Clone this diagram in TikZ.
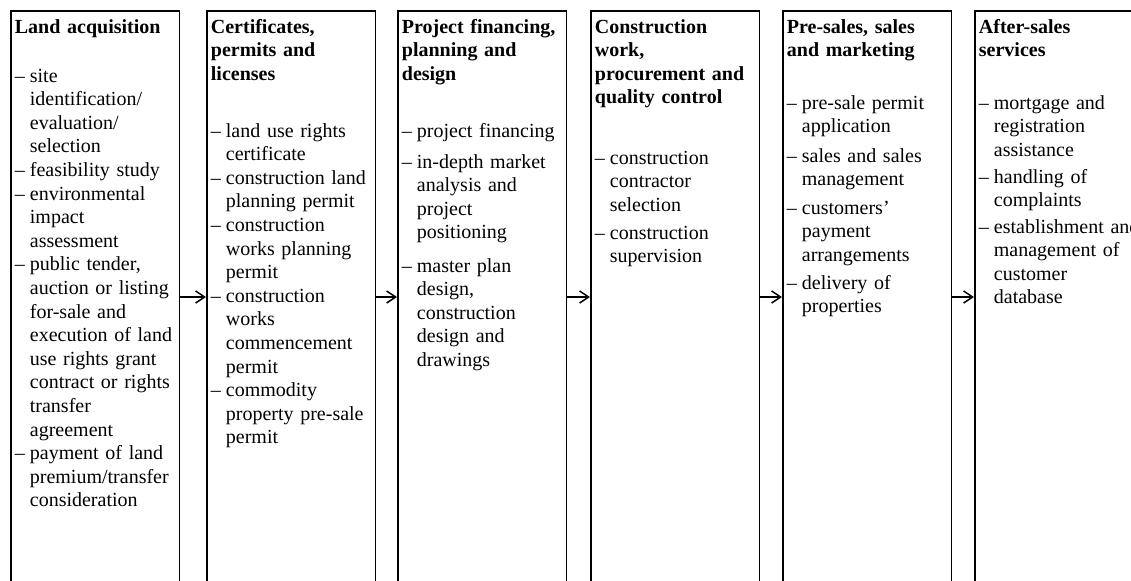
\documentclass[tikz,border=0pt]{standalone}
\usepackage{fontspec}
\setmainfont{Liberation Serif}
\usetikzlibrary{arrows.meta}
\newcommand\itm{\makebox[7.5pt][l]{–}}
\newcommand\cnt{\hspace*{7.5pt}}
\begin{document}
\begin{tikzpicture}[x=0.5pt,y=-0.5pt,
  box/.style={draw, line width=0.75pt, minimum width=84.25pt, minimum height=290pt, anchor=north west, inner sep=0pt},
  txt/.style={anchor=base west, inner sep=0pt, text width=100pt, align=left, font=\fontsize{10pt}{11.8pt}\selectfont},
  ttl/.style={txt, font=\fontsize{10pt}{11.8pt}\selectfont\bfseries},
  arr/.style={line width=0.75pt, -{Straight Barb[length=4.5pt,width=6pt]}}]
\useasboundingbox (0,0) rectangle (1131,580);
\clip (0,0) rectangle (1131,580);
% boxes
\node[box] (b1) at (10,10) {};
\node[box] (b2) at (206,10) {};
\node[box] (b3) at (397,10) {};
\node[box] (b4) at (590,10) {};
\node[box] (b5) at (782,10) {};
\node[box] (b6) at (974,10) {};
% arrows
\coordinate (ay) at (0,297);
\draw[arr] (b1.east |- ay) -- (b2.west |- ay);
\draw[arr] (b2.east |- ay) -- (b3.west |- ay);
\draw[arr] (b3.east |- ay) -- (b4.west |- ay);
\draw[arr] (b4.east |- ay) -- (b5.west |- ay);
\draw[arr] (b5.east |- ay) -- (b6.west |- ay);
% column 1
\node[ttl] (t1) at (14.5,33) {Land acquisition};
\node[txt] (i11) at (14.5,82) {\itm site\\\cnt identification/\\\cnt evaluation/\\\cnt selection};
\node[txt] (i12) at (14.5,176.4) {\itm feasibility study};
\node[txt] (i13) at (14.5,200) {\itm environmental\\\cnt impact\\\cnt assessment};
\node[txt] (i14) at (14.5,270.8) {\itm public tender,\\\cnt auction or listing\\\cnt for-sale and\\\cnt execution of land\\\cnt use rights grant\\\cnt contract or rights\\\cnt transfer\\\cnt agreement};
\node[txt] (i15) at (14.5,459.6) {\itm payment of land\\\cnt premium/transfer\\\cnt consideration};
% column 2
\node[ttl] (t2) at (210.5,33) {Certificates,\\permits and\\licenses};
\node[txt] (i21) at (210.5,137) {\itm land use rights\\\cnt certificate};
\node[txt] (i22) at (210.5,184.2) {\itm construction land\\\cnt planning permit};
\node[txt] (i23) at (210.5,231.4) {\itm construction\\\cnt works planning\\\cnt permit};
\node[txt] (i24) at (210.5,302.2) {\itm construction\\\cnt works\\\cnt commencement\\\cnt permit};
\node[txt] (i25) at (210.5,396.6) {\itm commodity\\\cnt property pre-sale\\\cnt permit};
% column 3
\node[ttl] (t3) at (401.5,33) {Project financing,\\planning and\\design};
\node[txt] (i31) at (401.5,137) {\itm project financing};
\node[txt] (i32) at (401.5,168) {\itm in-depth market\\\cnt analysis and\\\cnt project\\\cnt positioning};
\node[txt] (i33) at (401.5,272) {\itm master plan\\\cnt design,\\\cnt construction\\\cnt design and\\\cnt drawings};
% column 4
\node[ttl] (t4) at (594.5,33) {Construction\\work,\\procurement and\\quality control};
\node[txt] (i41) at (594.5,164) {\itm construction\\\cnt contractor\\\cnt selection};
\node[txt] (i42) at (594.5,239) {\itm construction\\\cnt supervision};
% column 5
\node[ttl] (t5) at (786.5,33) {Pre-sales, sales\\and marketing};
\node[txt] (i51) at (786.5,109) {\itm pre-sale permit\\\cnt application};
\node[txt] (i52) at (786.5,162) {\itm sales and sales\\\cnt management};
\node[txt] (i53) at (786.5,214) {\itm customers’\\\cnt payment\\\cnt arrangements};
\node[txt] (i54) at (786.5,289) {\itm delivery of\\\cnt properties};
% column 6
\node[ttl] (t6) at (978.5,33) {After-sales\\services};
\node[txt] (i61) at (978.5,109) {\itm mortgage and\\\cnt registration\\\cnt assistance};
\node[txt] (i62) at (978.5,183) {\itm handling of\\\cnt complaints};
\node[txt] (i63) at (978.5,233) {\itm establishment and\\\cnt management of\\\cnt customer\\\cnt database};
\end{tikzpicture}
\end{document}
